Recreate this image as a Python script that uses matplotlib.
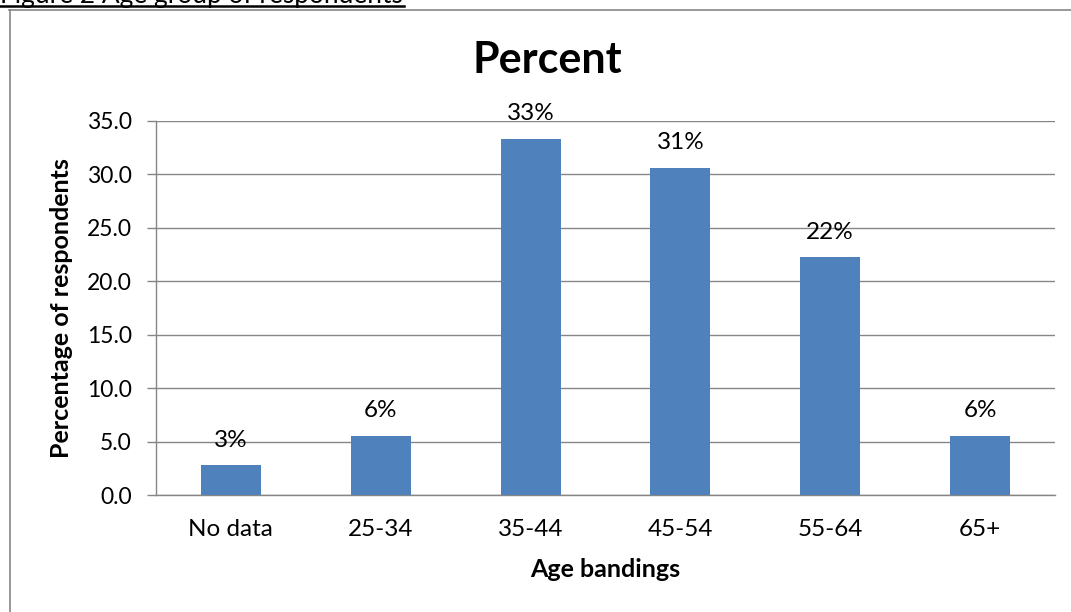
import matplotlib
matplotlib.use('Agg')
import matplotlib.pyplot as plt
from matplotlib.lines import Line2D
import numpy as np

plt.rcParams['font.family'] = ['Lato', 'DejaVu Sans']

# data
age_bands = ['No data', '25-34', '35-44', '45-54', '55-64', '65+']
percent = [2.78, 5.56, 33.33, 30.56, 22.22, 5.56]
bar_labels = ['3%', '6%', '33%', '31%', '22%', '6%']
y_ticks = [0, 5, 10, 15, 20, 25, 30, 35]

W, H = 1071, 612
grey = '#868686'
bar_color = '#4F81BD'

fig = plt.figure(figsize=(W / 100, H / 100), dpi=100)
ax = fig.add_axes([156 / W, 1 - 495 / H, 899 / W, (495 - 120.7) / H])

x = np.arange(len(age_bands))
ax.bar(x, percent, width=0.4, color=bar_color, linewidth=0, zorder=3)

# data labels above bars
for xi, v, lab in zip(x, percent, bar_labels):
    ax.annotate(lab, (xi, v), xytext=(0, 13.5), textcoords='offset points',
                ha='center', va='baseline', fontsize=17.5, zorder=4)

ax.set_xlim(-0.5, len(age_bands) - 0.5)
ax.set_ylim(0, 35)
ax.set_yticks(y_ticks)
ax.set_yticklabels(['%.1f' % t for t in y_ticks])
ax.set_xticks(x)
ax.set_xticklabels(age_bands)

ax.tick_params(axis='y', direction='out', length=6.5, width=1, color=grey,
               labelsize=16.5, pad=11)
ax.tick_params(axis='x', length=0, labelsize=17.5, pad=17)

ax.grid(True, axis='y', color=grey, linewidth=1.0, zorder=0)
ax.set_axisbelow(True)
for s in ['top', 'right']:
    ax.spines[s].set_visible(False)
for s in ['left', 'bottom']:
    ax.spines[s].set_color(grey)
    ax.spines[s].set_linewidth(1.0)

# titles
fig.text(547.5 / W, 1 - 73 / H, 'Percent', ha='center', va='baseline',
         fontsize=31, fontweight='bold')
fig.text(605.5 / W, 1 - 577 / H, 'Age bandings', ha='center', va='baseline',
         fontsize=18, fontweight='bold')
fig.text(62 / W, 1 - 308 / H, 'Percentage of respondents', ha='center',
         va='center', rotation=90, fontsize=18, fontweight='bold')

# chart border (cut off at right and bottom)
fig.add_artist(Line2D([9.5 / W, 9.5 / W], [1 - 10 / H, 0], color=grey, lw=1.2))
fig.add_artist(Line2D([9 / W, 1], [1 - 10 / H, 1 - 10 / H], color=grey, lw=1.2))

# caption above the chart, mostly cut off, underlined
cap = fig.text(0, 1 - 3 / H, 'Figure 2 Age group of respondents', ha='left',
               va='baseline', fontsize=16)
fig.canvas.draw()
w = cap.get_window_extent().width
cap.set_fontsize(16 * 404 / w)
fig.add_artist(Line2D([0, 404 / W], [1 - 5.5 / H, 1 - 5.5 / H], color='black', lw=1.8))

fig.savefig('out.png', dpi=100)
